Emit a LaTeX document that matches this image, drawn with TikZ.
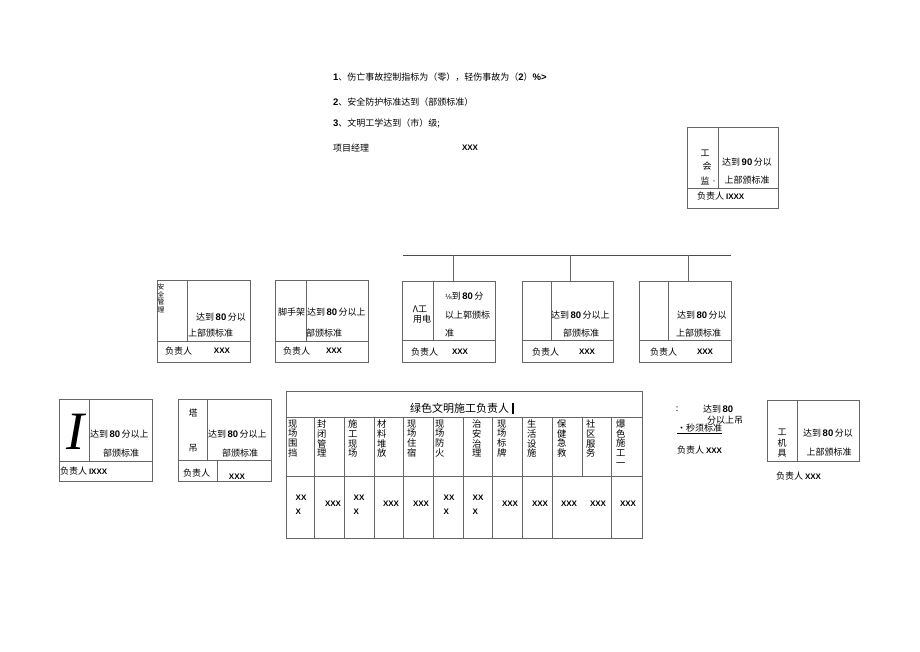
\documentclass[tikz,border=0pt]{standalone}
\usepackage{fontspec}
\setmainfont{Noto Sans CJK SC}
\newfontfamily\lb{Liberation Sans}
\newfontfamily\ls{Liberation Serif}
\newfontfamily\dv{DejaVu Sans}
\usetikzlibrary{fit}
\newcommand\B[1]{{\lb\bfseries\fontsize{9.5}{10}\selectfont #1}}
\newcommand\X[1]{{\lb\bfseries\fontsize{8}{10}\selectfont #1}}
\begin{document}
\begin{tikzpicture}[x=1pt,y=-1pt,
 frame/.style={draw=black!60,line width=0.6pt,inner sep=0pt,outer sep=0pt},
 ln/.style={draw=black!60,line width=0.6pt},
 t/.style={inner sep=0pt,outer sep=0pt,font=\fontsize{9}{10}\selectfont,text=black},
 w/.style={t,anchor=west},
 vt/.style={t,anchor=north west,align=left,font=\fontsize{9.3}{9.6}\selectfont},
 dd/.style={t,align=left,font=\lb\bfseries\fontsize{8}{14}\selectfont},
]
\useasboundingbox[fill=white] (0,0) rectangle (920,651);

% ---- top text
\node[w] (l1) at (333,77) {\B{1}、伤亡事故控制指标为（零），轻伤事故为（\B{2}）\B{\%>}};
\node[w] (l2) at (333,102) {\B{2}、安全防护标准达到（部颁标准）};
\node[w] (l3) at (333,123) {\B{3}、文明工学达到（市）级;};
\node[w] (l4) at (333,148) {项目经理};
\node[t] (l4x) at (470,148) {\X{XXX}};

% ---- top right box
\node[frame,fit={(687,127) (778,208)}] (tr) {};
\draw[ln] (718,127) -- (718,188);
\draw[ln] (687,188) -- (778,188);
\node[t] (tr1) at (705,153) {工};
\node[t] (tr2) at (707,166) {会};
\node[t] (tr3) at (705,181) {监};
\node[t] (tr3b) at (714,182) {\fontsize{4}{4}\selectfont «};
\node[t] (tr4) at (747,162) {达到\,\B{90}\,分以};
\node[t] (tr5) at (747,180) {上部颁标准};
\node[w] (tr6) at (697,196) {负责人 \X{IXXX}};

% ---- connector bar
\coordinate (hl) at (403,255);
\coordinate (hr) at (731,255);
\draw[draw=black!70,line width=0.6pt] (hl) -- (hr);

% ---- row of five boxes
\node[frame,fit={(157,280) (250,362)}] (b1) {};
\draw[ln] (187,280) -- (187,341);
\draw[ln] (157,341) -- (250,341);
\node[t,anchor=north,align=center,font=\fontsize{6.8}{7.5}\selectfont] (b1a) at (161,284) {安\\全\\管\\理};
\node[t] (b1b) at (221,317) {达到\,\B{80}\,分以};
\node[w] (b1c) at (188,333) {上部颁标准};
\node[w] (b1d) at (165,351) {负责人};
\node[t] (b1e) at (222,351) {\X{XXX}};

\node[frame,fit={(275,280) (368,362)}] (b2) {};
\draw[ln] (306,280) -- (306,341);
\draw[ln] (275,341) -- (368,341);
\node[w] (b2a) at (278,312) {脚手架};
\node[w] (b2b) at (307,312) {达到\,\B{80}\,分以上};
\node[w] (b2c) at (306,333) {部颁标准};
\node[w] (b2d) at (283,351) {负责人};
\node[t] (b2e) at (334,351) {\X{XXX}};

\node[frame,fit={(402,281) (495,362)}] (b3) {};
\draw[ln] (433,281) -- (433,340);
\draw[ln] (402,340) -- (495,340);
\node[t] (b3a) at (420,309) {Λ工};
\node[t] (b3b) at (422,319) {用电};
\node[w] (b3c) at (445,296) {{\dv\fontsize{7}{8}\selectfont ⅛}到\,\B{80}\,分};
\node[w] (b3d) at (445,315) {以上郭颁标};
\node[w] (b3e) at (445,333) {准};
\node[w] (b3f) at (411,352) {负责人};
\node[t] (b3g) at (460,352) {\X{XXX}};

\node[frame,fit={(522,281) (613,362)}] (b4) {};
\draw[ln] (551,281) -- (551,340);
\draw[ln] (522,340) -- (613,340);
\node[w] (b4a) at (551,315) {达到\,\B{80}\,分以上};
\node[t] (b4b) at (581,333) {部颁标准};
\node[w] (b4c) at (532,352) {负责人};
\node[t] (b4d) at (587,352) {\X{XXX}};

\node[frame,fit={(639,281) (731,362)}] (b5) {};
\draw[ln] (668,281) -- (668,340);
\draw[ln] (639,340) -- (731,340);
\node[w] (b5a) at (677,315) {达到\,\B{80}\,分以};
\node[w] (b5b) at (676,333) {上部颁标准};
\node[w] (b5c) at (650,352) {负责人};
\node[t] (b5d) at (705,352) {\X{XXX}};

% ticks from bar to boxes
\coordinate (k3) at (453,255);
\coordinate (k4) at (570,255);
\coordinate (k5) at (688,255);
\draw[ln] (k3) -- (k3 |- b3.north);
\draw[ln] (k4) -- (k4 |- b4.north);
\draw[ln] (k5) -- (k5 |- b5.north);

% ---- bottom left boxes
\node[frame,fit={(59,399) (152,481)}] (ba) {};
\draw[ln] (89,399) -- (89,461);
\draw[ln] (59,461) -- (152,461);
\node[t] (baI) at (75,432) {\ls\itshape\fontsize{54}{54}\selectfont I};
\node[w] (bab) at (90,434) {达到\,\B{80}\,分以上};
\node[t] (bac) at (121,453) {部颁标准};
\node[w] (bad) at (60,471) {负责人 \X{IXXX}};

\node[frame,fit={(178,399) (271,481)}] (bb) {};
\draw[ln] (207,399) -- (207,460);
\draw[ln] (178,460) -- (271,460);
\draw[ln] (217,460) -- (217,481);
\node[t] (bba) at (193,413) {塔};
\node[t] (bbb) at (193,448) {吊};
\node[w] (bbc) at (208,434) {达到\,\B{80}\,分以上};
\node[t] (bbd) at (240,453) {部颁标准};
\node[w] (bbe) at (183,473) {负责人};
\node[t] (bbf) at (237,477) {\X{XXX}};

% ---- table
\node[frame,fit={(286,391) (642,538)}] (tb) {};
\draw[ln] (286,417) -- (642,417);
\draw[ln] (286,476) -- (642,476);
\foreach \xx in {314,344,374,403,433,463,492,522,552,582,611}
  \draw[ln] (\xx,417) -- (\xx,476);
\foreach \xx in {314,344,374,403,433,463,492,522,552,611}
  \draw[ln] (\xx,476) -- (\xx,538);
\node[t,anchor=west,font=\fontsize{11}{12}\selectfont] (th) at (410,408) {绿色文明施工负责人\hspace{3pt}\rule[-1.5pt]{1.6pt}{11pt}};

\node[vt] (c1) at (288,420) {现\\场\\围\\挡};
\node[vt] (c2) at (317,420) {封\\闭\\管\\理};
\node[vt] (c3) at (348,420) {施\\工\\现\\场};
\node[vt] (c4) at (377,420) {材\\料\\堆\\放};
\node[vt] (c5) at (407,420) {现\\场\\住\\宿};
\node[vt] (c6) at (435,420) {现\\场\\防\\火};
\node[vt] (c7) at (472,420) {治\\安\\治\\理};
\node[vt] (c8) at (497,420) {现\\场\\标\\牌};
\node[vt] (c9) at (527,420) {生\\活\\设\\施};
\node[vt] (c10) at (557,420) {保\\健\\急\\救};
\node[vt] (c11) at (586,420) {社\\区\\服\\务};
\node[vt] (c12) at (616,420) {爆\\色\\施\\工\\一};

\node[dd] (d1) at (301,505) {XX\\X};
\node[dd] (d2) at (333,504) {XXX};
\node[dd] (d3) at (359,505) {XX\\X};
\node[dd] (d4) at (391,504) {XXX};
\node[dd] (d5) at (421,504) {XXX};
\node[dd] (d6) at (449,505) {XX\\X};
\node[dd] (d7) at (478,505) {XX\\X};
\node[dd] (d8) at (510,504) {XXX};
\node[dd] (d9) at (540,504) {XXX};
\node[dd] (d10) at (569,504) {XXX};
\node[dd] (d11) at (598,504) {XXX};
\node[dd] (d12) at (628,504) {XXX};

% ---- right labels
\node[t] (r1) at (677,409) {:};
\node[w] (r2) at (703,409) {达到\,\B{80}};
\node[w] (r3) at (707,420) {分以上吊};
\node[w] (r4) at (677,429) {\underline{•秒须标准}};
\node[w] (r5) at (677,450) {负责人 \X{XXX}};

\node[frame,fit={(767,400) (859,461)}] (br) {};
\draw[ln] (797,400) -- (797,461);
\node[t] (br1) at (782,432) {工};
\node[t] (br2) at (782,443) {机};
\node[t] (br3) at (782,453) {具};
\node[t] (br4) at (828,433) {达到\,\B{80}\,分以};
\node[t] (br5) at (829,452) {上部颁标准};
\node[w] (br6) at (776,476) {负责人 \X{XXX}};
\end{tikzpicture}
\end{document}
